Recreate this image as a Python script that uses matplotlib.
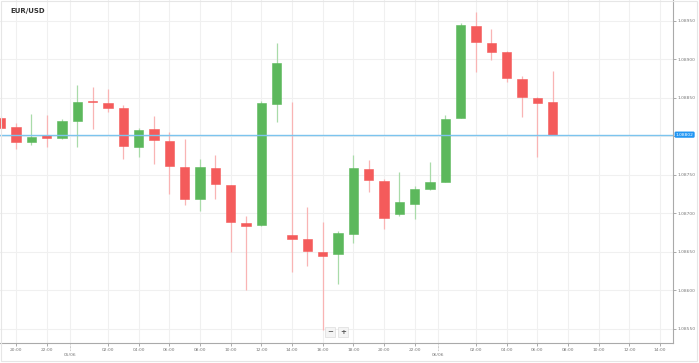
import matplotlib
matplotlib.use('Agg')
import matplotlib.pyplot as plt
from matplotlib.patches import Rectangle

# hourly candles, hour 0 = 00:00 on 05/06
hours = list(range(-5, 32))
opens = [1.08824, 1.08812, 1.08792, 1.08802, 1.08798, 1.08820, 1.08846, 1.08843,
         1.08837, 1.08786, 1.08809, 1.08794, 1.08760, 1.08718, 1.08759, 1.08736,
         1.08687, 1.08685, 1.08842, 1.08672, 1.08667, 1.08650, 1.08647, 1.08673,
         1.08758, 1.08742, 1.08699, 1.08712, 1.08732, 1.08741, 1.08824, 1.08943,
         1.08921, 1.08910, 1.08874, 1.08850, 1.08844]
highs = [1.08826, 1.08817, 1.08829, 1.08828, 1.08822, 1.08866, 1.08864, 1.08861,
         1.08841, 1.08811, 1.08826, 1.08805, 1.08797, 1.08771, 1.08776, 1.08737,
         1.08696, 1.08846, 1.08921, 1.08845, 1.08708, 1.08688, 1.08677, 1.08776,
         1.08769, 1.08744, 1.08753, 1.08735, 1.08766, 1.08828, 1.08947, 1.08961,
         1.08939, 1.08911, 1.08878, 1.08851, 1.08885]
lows = [1.08810, 1.08784, 1.08788, 1.08786, 1.08797, 1.08786, 1.08809, 1.08831,
        1.08770, 1.08773, 1.08764, 1.08725, 1.08711, 1.08703, 1.08718, 1.08650,
        1.08600, 1.08683, 1.08819, 1.08623, 1.08631, 1.08548, 1.08608, 1.08661,
        1.08727, 1.08680, 1.08696, 1.08692, 1.08730, 1.08740, 1.08824, 1.08884,
        1.08899, 1.08870, 1.08825, 1.08773, 1.08802]
closes = [1.08811, 1.08793, 1.08799, 1.08798, 1.08820, 1.08845, 1.08844, 1.08836,
          1.08787, 1.08808, 1.08795, 1.08761, 1.08718, 1.08760, 1.08738, 1.08688,
          1.08684, 1.08843, 1.08895, 1.08666, 1.08651, 1.08645, 1.08674, 1.08759,
          1.08743, 1.08694, 1.08715, 1.08732, 1.08741, 1.08822, 1.08944, 1.08922,
          1.08909, 1.08875, 1.08851, 1.08843, 1.08802]

current_price = 1.08802
y_ticks = [1.08550, 1.08600, 1.08650, 1.08700, 1.08750, 1.08800, 1.08850, 1.08900, 1.08950]
x_ticks = [-4, -2, 2, 4, 6, 8, 10, 12, 14, 16, 18, 20, 22, 26, 28, 30, 32, 34, 36, 38]
x_labels = ['20:00', '22:00', '02:00', '04:00', '06:00', '08:00', '10:00', '12:00',
            '14:00', '16:00', '18:00', '20:00', '22:00', '02:00', '04:00', '06:00',
            '08:00', '10:00', '12:00', '14:00']
day_pos = [-0.5, 23.5]
day_labels = ['05/06', '06/06']

green = '#5cb85c'
red = '#f45b5b'
green_wick = '#a9dba9'
red_wick = '#f9b4b4'

fig = plt.figure(figsize=(6.99, 3.63), dpi=100)
ax = fig.add_axes([0.0, 20 / 363, 673 / 699, 343 / 363])

for h, o, hi, lo, c in zip(hours, opens, highs, lows, closes):
    up = c >= o
    ax.vlines(h, lo, hi, color=green_wick if up else red_wick, lw=0.9, zorder=2)
    height = max(abs(c - o), 0.00002)
    ax.bar(h, height, bottom=min(o, c), width=0.6, color=green if up else red,
           edgecolor=green if up else red, lw=0.4, zorder=3)

ax.axhline(current_price, color='#7cc4ee', lw=1.0, zorder=4)

ax.set_xlim(-5.05, 38.85)
ax.set_ylim(1.085314, 1.089769)

ax.set_xticks(x_ticks)
ax.set_xticklabels(x_labels)
ax.set_yticks(y_ticks)
# the 1.08800 label sits under the current price box
ax.set_yticklabels(['' if abs(v - current_price) < 0.0001 else '%.5f' % v for v in y_ticks])
ax.yaxis.tick_right()
ax.tick_params(axis='both', labelsize=3.2, colors='#888888', length=2, width=0.5,
               labelcolor='#777777', pad=1.5)

# grid
for t in x_ticks + day_pos:
    ax.axvline(t, color='#f0f0f0', lw=0.8, zorder=0)
for t in y_ticks:
    ax.axhline(t, color='#f0f0f0', lw=0.8, zorder=0)

for s in ['top', 'left']:
    ax.spines[s].set_visible(False)
for s in ['right', 'bottom']:
    ax.spines[s].set_color('#aaaaaa')
    ax.spines[s].set_linewidth(0.8)

# day separators under the axis
for d, lab in zip(day_pos, day_labels):
    ax.plot([d, d], [-0.002, -0.022], transform=ax.get_xaxis_transform(),
            color='#999999', lw=0.5, ls=(0, (1, 1)), clip_on=False)
    ax.text(d, -0.036, lab, transform=ax.get_xaxis_transform(), ha='center', va='center',
            fontsize=3.2, color='#777777')

ax.text(1.004, current_price, '%.5f' % current_price, transform=ax.get_yaxis_transform(),
        ha='left', va='center', fontsize=3.2, color='white', zorder=6,
        bbox=dict(boxstyle='round,pad=0.25,rounding_size=0.3', fc='#2196f3', ec='none'),
        clip_on=False)

fig.text(10 / 699, 1 - 11 / 363, 'EUR/USD', fontsize=5, fontweight='bold', color='#333333',
         ha='left', va='center')

# zoom buttons
for x, s in [(330, '\u2212'), (343, '+')]:
    fig.text(x / 699, 1 - 332 / 363, s, fontsize=5, fontweight='bold', color='#555555',
             ha='center', va='center',
             bbox=dict(boxstyle='square,pad=0.25', fc='#f4f4f4', ec='#dddddd', lw=0.5))

fig.patches.append(Rectangle((0.001, 0.006), 0.996, 0.992, transform=fig.transFigure,
                             fill=False, ec='#e6e6e6', lw=0.8))

fig.savefig('out.png', dpi=100)
